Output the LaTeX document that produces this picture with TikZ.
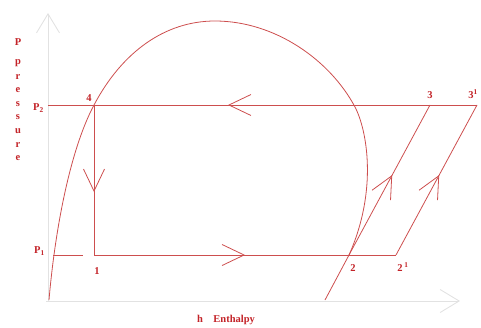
\documentclass[tikz,border=0pt]{standalone}
\usepackage{fontspec}
\setmainfont{Liberation Serif}
\usetikzlibrary{arrows.meta,decorations.markings}
\definecolor{cycred}{RGB}{205,78,78}
\definecolor{txtred}{RGB}{195,35,40}
\definecolor{axgray}{RGB}{226,226,226}
\tikzset{
  cyc/.style={cycred,line width=0.8pt},
  ax/.style={axgray,line width=0.9pt,-{Straight Barb[length=19pt,width=23pt]}},
  lbl/.style={text=txtred,font=\fontsize{10.5}{12}\selectfont\bfseries,inner sep=0pt},
  midarr/.style={postaction={decorate},decoration={markings,
     mark=at position #1 with {\arrow{Straight Barb[length=22pt,width=21pt,line width=0.8pt]}}}},
}
\begin{document}
\begin{tikzpicture}[x=1pt,y=-1pt]
  \useasboundingbox (0,0) rectangle (481,327);
  % axes
  \coordinate (ytop) at (48,13);
  \coordinate (xend) at (460,301);
  \draw[ax] (48,302) -- (ytop);
  \draw[ax] (46,301) -- (xend);
  % cycle points
  \coordinate (p4) at (94,105);
  \coordinate (p1) at (94,255);
  \coordinate (p2) at (349,255);
  \coordinate (p2p) at (396,255);
  \coordinate (p3) at (430,105);
  \coordinate (p3p) at (477,105);
  \coordinate (tail) at (325,300);
  \coordinate (ptwo) at (48,105);
  \coordinate (pone) at (53,255);
  \coordinate (poneend) at (83,255);
  \coordinate (top) at (215,21);
  \coordinate (rside) at (355,107);
  % saturation dome
  \draw[cyc] (49,300) .. controls (55,230) and (70,150) .. (p4)
    .. controls (122,52) and (165,21) .. (top)
    .. controls (275,21) and (330,60) .. (rside)
    .. controls (367,130) and (378,190) .. (p2);
  % cycle
  \draw[cyc] (ptwo) -- (p4);
  \draw[cyc,midarr=0.65] (p3p) -- (p4);
  \draw[cyc,midarr=0.58] (p4) -- (p1);
  \draw[cyc,midarr=0.5] (p1) -- (p2p);
  \draw[cyc] (tail) -- (p2);
  \draw[cyc,midarr=0.533] (p2) -- (p3);
  \draw[cyc,midarr=0.533] (p2p) -- (p3p);
  \draw[cyc] (pone) -- (poneend);
  % labels
  \node[lbl] (l4) at (89,98) {4};
  \node[lbl] (l1) at (97,271) {1};
  \node[lbl] (l2) at (353,268) {2};
  \node[lbl] (l2p) at (403,267) {2\,\textsuperscript{1}};
  \node[lbl] (l3) at (430,95) {3};
  \node[lbl] (l3p) at (473,94) {3\textsuperscript{1}};
  \node[lbl,anchor=east] (lptwo) at (44,108) {P\textsubscript{2}};
  \node[lbl,anchor=east] (lpone) at (45,251) {P\textsubscript{1}};
  \node[lbl] (lh) at (226,320) {h\quad Enthalpy};
  \node[lbl] (lp) at (18,42) {P};
  \foreach \c [count=\i] in {p,r,e,s,s,u,r,e}
    \node[lbl] (pr\i) at (18,49.4+13.6*\i) {\c};
\end{tikzpicture}
\end{document}
